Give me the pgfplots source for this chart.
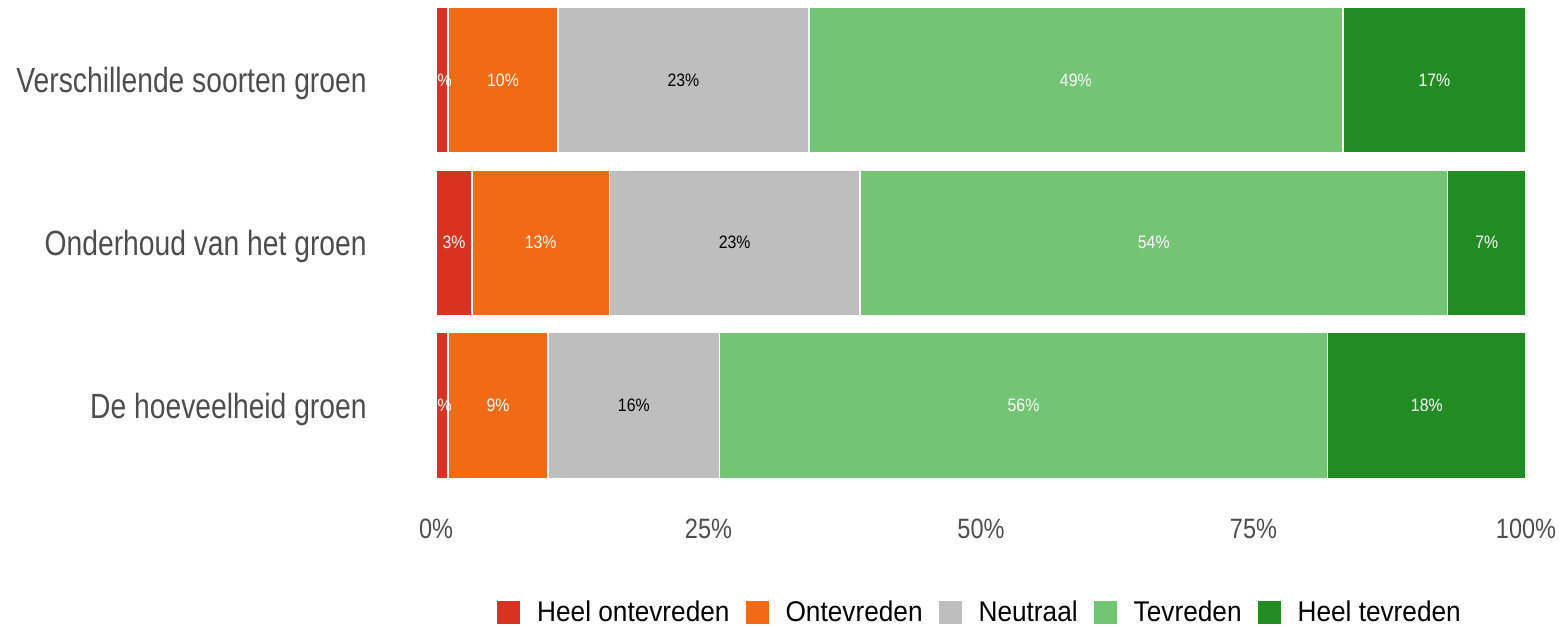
\documentclass[border=0pt]{standalone}
\usepackage{fontspec}
\setmainfont{Liberation Sans}[FakeStretch=0.88]
\newfontfamily\ylabfont{Liberation Sans}[FakeStretch=0.807]
\newfontfamily\tickfont{Liberation Sans}[FakeStretch=0.84]
\newfontfamily\legfont{Liberation Sans}[FakeStretch=0.92]
\usepackage{pgfplots}
\usepackage{pgfplotstable}
\pgfplotsset{compat=1.18}
\definecolor{c1}{RGB}{218,50,32}
\definecolor{c2}{RGB}{241,106,21}
\definecolor{c3}{RGB}{190,190,190}
\definecolor{c4}{RGB}{116,196,118}
\definecolor{c5}{RGB}{35,139,35}
\definecolor{txtgray}{RGB}{77,77,77}

\pgfplotstableread{
y a b c d e
2 1.1 10.1 23.0 49.0 16.8
1 3.3 12.6 23.0 53.9 7.2
0 1.1 9.2 15.7 55.8 18.2
}\datatable

\pgfplotstableread{
x y lab
0.4 2 1
6.15 2 10
58.7 2 49
91.6 2 17
1.65 1 3
9.6 1 13
65.85 1 54
96.4 1 7
0.4 0 1
5.7 0 9
53.9 0 56
90.9 0 18
}\whitelabels

\pgfplotstableread{
x y lab
22.7 2 23
27.4 1 23
18.15 0 16
}\blacklabels

\begin{document}
\begin{tikzpicture}
\useasboundingbox (0,0) rectangle (780.5pt,313pt);
\begin{axis}[
  at={(218pt,73.63pt)}, anchor=south west,
  scale only axis, width=545pt, height=235.99pt,
  xmin=0, xmax=100, ymin=-0.45, ymax=2.45,
  xbar stacked, bar width=73pt,
  axis line style={draw=none}, major tick style={draw=none}, minor tick style={draw=none},
  xtick={0,25,50,75,100},
  xticklabels={0\%,25\%,50\%,75\%,100\%},
  ytick={0,1,2},
  yticklabels={De hoeveelheid groen,Onderhoud van het groen,Verschillende soorten groen},
  xticklabel style={font=\tickfont\fontsize{14pt}{16pt}\selectfont, text=txtgray, anchor=base, inner sep=0pt, yshift=-29.63pt},
  yticklabel style={font=\ylabfont\fontsize{17.5pt}{20pt}\selectfont, text=txtgray, anchor=base east, inner sep=0pt, xshift=-34.5pt, yshift=-6.5pt},
  /pgf/number format/assume math mode=true,
  legend image code/.code={\fill[#1, draw=none] (0pt,-5.75pt) rectangle (11.5pt,5.75pt);},
  legend columns=5,
  legend style={draw=none, fill=none, at={(axis description cs:0.5,-0.2834)}, anchor=center,
    font=\legfont\fontsize{14.25pt}{17pt}\selectfont, inner sep=0pt,
    /tikz/every odd column/.append style={column sep=6.5pt},
    /tikz/every even column/.append style={column sep=6pt}},
]
\addplot[fill=c1, draw=white, line width=0.8pt] table[x=a, y=y] {\datatable};
\addplot[fill=c2, draw=white, line width=0.8pt] table[x=b, y=y] {\datatable};
\addplot[fill=c3, draw=white, line width=0.8pt] table[x=c, y=y] {\datatable};
\addplot[fill=c4, draw=white, line width=0.8pt] table[x=d, y=y] {\datatable};
\addplot[fill=c5, draw=white, line width=0.8pt] table[x=e, y=y] {\datatable};
\legend{Heel ontevreden, Ontevreden, Neutraal, Tevreden, Heel tevreden}
\end{axis}
\begin{axis}[
  at={(218pt,73.63pt)}, anchor=south west,
  scale only axis, width=545pt, height=235.99pt,
  xmin=0, xmax=100, ymin=-0.45, ymax=2.45,
  hide axis, clip=false,
]
\addplot[draw=none, mark=none, point meta=explicit symbolic,
  nodes near coords={\pgfplotspointmeta\%},
  nodes near coords style={anchor=center, text=white, font=\fontsize{9pt}{11pt}\selectfont}]
  table[x=x, y=y, meta=lab] {\whitelabels};
\addplot[draw=none, mark=none, point meta=explicit symbolic,
  nodes near coords={\pgfplotspointmeta\%},
  nodes near coords style={anchor=center, text=black, font=\fontsize{9pt}{11pt}\selectfont}]
  table[x=x, y=y, meta=lab] {\blacklabels};
\end{axis}
\end{tikzpicture}
\end{document}
